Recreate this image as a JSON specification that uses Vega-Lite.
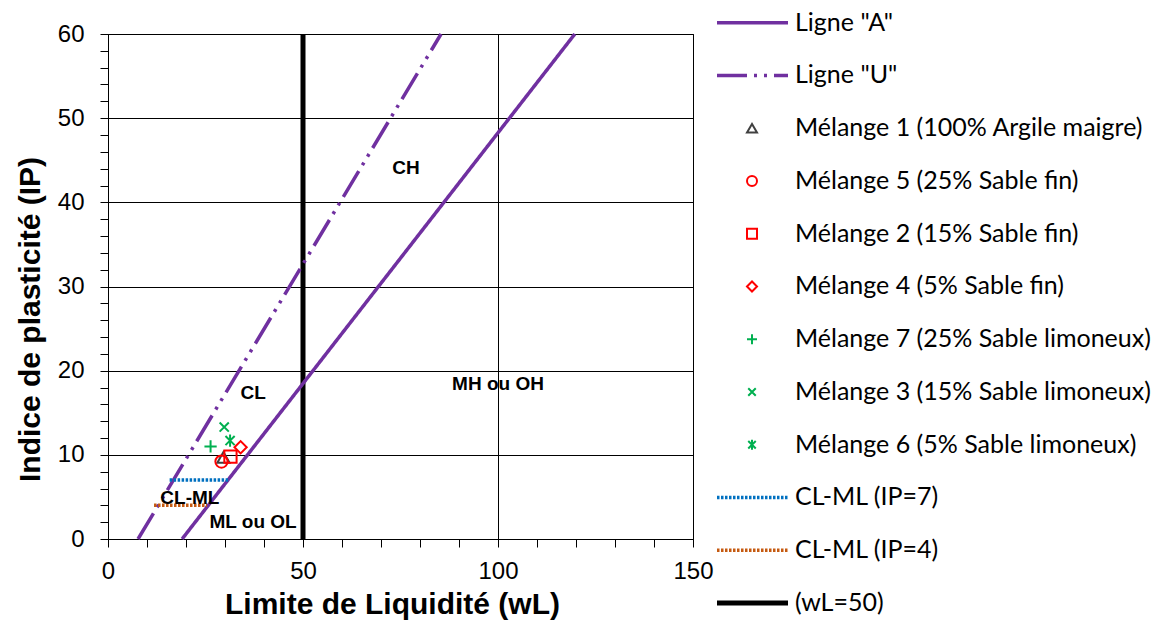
{
  "$schema": "https://vega.github.io/schema/vega-lite/v6.json",
  "background": "white",
  "padding": {"top": 10, "left": 14, "right": 0, "bottom": 0},
  "config": {
    "font": "Liberation Sans",
    "view": {"stroke": "black", "strokeWidth": 1},
    "axis": {
      "domainColor": "black",
      "domainWidth": 1,
      "tickColor": "black",
      "tickWidth": 1,
      "tickSize": 8,
      "tickCount": 100,
      "format": "d",
      "labelColor": "black",
      "labelFont": "Liberation Sans",
      "labelFontSize": 24,
      "labelOverlap": false,
      "labelFlush": false,
      "labelBound": false,
      "titleColor": "black",
      "titleFont": "Liberation Sans",
      "titleFontSize": 30,
      "titleFontWeight": "bold",
      "gridColor": "black",
      "gridWidth": 1
    }
  },
  "datasets": {
    "lignes": [
      {"serie": "(wL=50)", "wL": 50, "IP": 0},
      {"serie": "(wL=50)", "wL": 50, "IP": 60},
      {"serie": "Ligne \"A\"", "wL": 19, "IP": 0},
      {"serie": "Ligne \"A\"", "wL": 119.7, "IP": 60},
      {"serie": "Ligne \"U\"", "wL": 7.7, "IP": 0},
      {"serie": "Ligne \"U\"", "wL": 85.4, "IP": 60},
      {"serie": "CL-ML (IP=7)", "wL": 15.8, "IP": 7},
      {"serie": "CL-ML (IP=7)", "wL": 31.2, "IP": 7},
      {"serie": "CL-ML (IP=4)", "wL": 11.8, "IP": 4},
      {"serie": "CL-ML (IP=4)", "wL": 25.4, "IP": 4}
    ],
    "essais": [
      {"serie": "Mélange 1 (100% Argile maigre)", "wL": 29.6, "IP": 9.7},
      {"serie": "Mélange 5 (25% Sable fin)", "wL": 29.1, "IP": 9.2},
      {"serie": "Mélange 2 (15% Sable fin)", "wL": 31.4, "IP": 9.8},
      {"serie": "Mélange 4 (5% Sable fin)", "wL": 34.0, "IP": 10.9},
      {"serie": "Mélange 7 (25% Sable limoneux)", "wL": 26.3, "IP": 11.0},
      {"serie": "Mélange 3 (15% Sable limoneux)", "wL": 29.8, "IP": 13.3},
      {"serie": "Mélange 6 (5% Sable limoneux)", "wL": 31.3, "IP": 11.7}
    ],
    "zones": [
      {"nom": "CH", "wL": 76.4, "IP": 44.1},
      {"nom": "CL", "wL": 37.2, "IP": 17.3},
      {"nom": "MH ou OH", "wL": 100, "IP": 18.4},
      {"nom": "CL-ML", "wL": 21, "IP": 4.9},
      {"nom": "ML ou OL", "wL": 37.2, "IP": 2.0}
    ],
    "legende": [
      {"rang": 0, "serie": "Ligne \"A\"", "type": "ligne"},
      {"rang": 1, "serie": "Ligne \"U\"", "type": "ligne"},
      {"rang": 2, "serie": "Mélange 1 (100% Argile maigre)", "type": "symbole"},
      {"rang": 3, "serie": "Mélange 5 (25% Sable fin)", "type": "symbole"},
      {"rang": 4, "serie": "Mélange 2 (15% Sable fin)", "type": "symbole"},
      {"rang": 5, "serie": "Mélange 4 (5% Sable fin)", "type": "symbole"},
      {"rang": 6, "serie": "Mélange 7 (25% Sable limoneux)", "type": "symbole"},
      {"rang": 7, "serie": "Mélange 3 (15% Sable limoneux)", "type": "symbole"},
      {"rang": 8, "serie": "Mélange 6 (5% Sable limoneux)", "type": "symbole"},
      {"rang": 9, "serie": "CL-ML (IP=7)", "type": "ligne"},
      {"rang": 10, "serie": "CL-ML (IP=4)", "type": "ligne"},
      {"rang": 11, "serie": "(wL=50)", "type": "trait50"}
    ]
  },
  "spacing": 20,
  "bounds": "flush",
  "hconcat": [
    {
      "width": 585,
      "height": 505,
      "layer": [
        {
          "data": {"name": "lignes"},
          "transform": [{"filter": "datum.serie === '(wL=50)'"}],
          "mark": {"type": "line", "strokeWidth": 5, "strokeCap": "butt"},
          "encoding": {
            "x": {
              "field": "wL", "type": "quantitative",
              "scale": {"domain": [0, 150], "nice": false, "zero": false},
              "axis": {
                "title": "Limite de Liquidité (wL)",
                "format": "d",
                "values": [0, 10, 20, 30, 40, 50, 60, 70, 80, 90, 100, 110, 120, 130, 140, 150],
                "labelExpr": "datum.value % 50 === 0 ? datum.label : ''",
                "grid": true,
                "gridOpacity": {"condition": {"test": "datum.value % 50 === 0", "value": 1}, "value": 0},
                "labelPadding": 12,
                "titlePadding": 6,
                "titleX": 284
              }
            },
            "y": {
              "field": "IP", "type": "quantitative",
              "scale": {"domain": [0, 60], "nice": false, "zero": false},
              "axis": {
                "title": "Indice de plasticité (IP)",
                "format": "d",
                "values": [0, 2, 4, 6, 8, 10, 12, 14, 16, 18, 20, 22, 24, 26, 28, 30, 32, 34, 36, 38, 40, 42, 44, 46, 48, 50, 52, 54, 56, 58, 60],
                "labelExpr": "datum.value % 10 === 0 ? datum.label : ''",
                "grid": true,
                "gridOpacity": {"condition": {"test": "datum.value % 10 === 0", "value": 1}, "value": 0},
                "labelPadding": 16,
                "titlePadding": 12,
                "titleY": 285
              }
            },
            "color": {
              "field": "serie", "type": "nominal", "legend": null,
              "scale": {
                "domain": ["Ligne \"A\"", "Ligne \"U\"", "Mélange 1 (100% Argile maigre)", "Mélange 5 (25% Sable fin)", "Mélange 2 (15% Sable fin)", "Mélange 4 (5% Sable fin)", "Mélange 7 (25% Sable limoneux)", "Mélange 3 (15% Sable limoneux)", "Mélange 6 (5% Sable limoneux)", "CL-ML (IP=7)", "CL-ML (IP=4)", "(wL=50)"],
                "range": ["#7030A0", "#7030A0", "#404040", "#FF0000", "#FF0000", "#FF0000", "#00B050", "#00B050", "#00B050", "#0070C0", "#C55A11", "#000000"]
              }
            }
          }
        },
        {
          "data": {"name": "lignes"},
          "transform": [{"filter": "datum.serie !== '(wL=50)'"}],
          "mark": {"type": "line", "strokeWidth": 3.5, "strokeCap": "butt"},
          "encoding": {
            "x": {"field": "wL", "type": "quantitative"},
            "y": {"field": "IP", "type": "quantitative"},
            "color": {"field": "serie", "type": "nominal", "legend": null},
            "strokeDash": {
              "field": "serie", "type": "nominal", "legend": null,
              "scale": {
                "domain": ["Ligne \"A\"", "Ligne \"U\"", "CL-ML (IP=7)", "CL-ML (IP=4)"],
                "range": [[1, 0], [30, 7, 3, 7, 3, 7], [2.5, 1.5], [2.5, 1.5]]
              }
            }
          }
        },
        {
          "data": {"name": "essais"},
          "mark": {"type": "point", "filled": false, "strokeWidth": 2, "size": 150, "opacity": 1},
          "encoding": {
            "x": {"field": "wL", "type": "quantitative"},
            "y": {"field": "IP", "type": "quantitative"},
            "color": {"field": "serie", "type": "nominal", "legend": null},
            "shape": {
              "field": "serie", "type": "nominal", "legend": null,
              "scale": {
                "domain": ["Mélange 1 (100% Argile maigre)", "Mélange 5 (25% Sable fin)", "Mélange 2 (15% Sable fin)", "Mélange 4 (5% Sable fin)", "Mélange 7 (25% Sable limoneux)", "Mélange 3 (15% Sable limoneux)", "Mélange 6 (5% Sable limoneux)"],
                "range": ["triangle-up", "circle", "square", "diamond", "M-1,0H1M0,-1V1", "M-0.75,-0.75L0.75,0.75M-0.75,0.75L0.75,-0.75", "M-0.75,-0.75L0.75,0.75M-0.75,0.75L0.75,-0.75M0,-1V1"]
              }
            }
          }
        },
        {
          "data": {"name": "zones"},
          "mark": {"type": "text", "font": "Liberation Sans", "fontWeight": "bold", "fontSize": 19, "color": "black", "align": "center", "baseline": "middle"},
          "encoding": {
            "x": {"field": "wL", "type": "quantitative"},
            "y": {"field": "IP", "type": "quantitative"},
            "text": {"field": "nom", "type": "nominal"}
          }
        }
      ]
    },
    {
      "width": 440,
      "height": 505,
      "view": {"stroke": null},
      "data": {"name": "legende"},
      "layer": [
        {
          "transform": [{"filter": "datum.type === 'ligne'"}],
          "mark": {"type": "rule", "strokeWidth": 3.5, "strokeCap": "butt"},
          "encoding": {
            "x": {"datum": 4, "type": "quantitative", "scale": {"domain": [0, 440], "nice": false, "zero": false}, "axis": null},
            "x2": {"datum": 75},
            "y": {"field": "rang", "type": "quantitative", "scale": {"domain": [0.214, 9.787], "reverse": true, "nice": false, "zero": false}, "axis": null},
            "color": {"field": "serie", "type": "nominal", "legend": null},
            "strokeDash": {"field": "serie", "type": "nominal", "legend": null}
          }
        },
        {
          "transform": [{"filter": "datum.type === 'trait50'"}],
          "mark": {"type": "rule", "strokeWidth": 5, "strokeCap": "butt"},
          "encoding": {
            "x": {"datum": 4, "type": "quantitative"},
            "x2": {"datum": 75},
            "y": {"field": "rang", "type": "quantitative"},
            "color": {"field": "serie", "type": "nominal", "legend": null}
          }
        },
        {
          "transform": [{"filter": "datum.type === 'symbole'"}],
          "mark": {"type": "point", "filled": false, "strokeWidth": 2, "size": 100, "opacity": 1},
          "encoding": {
            "x": {"datum": 39, "type": "quantitative"},
            "y": {"field": "rang", "type": "quantitative"},
            "color": {"field": "serie", "type": "nominal", "legend": null},
            "shape": {"field": "serie", "type": "nominal", "legend": null}
          }
        },
        {
          "mark": {"type": "text", "font": "Lato", "fontSize": 25, "color": "black", "align": "left", "baseline": "middle"},
          "encoding": {
            "x": {"datum": 82, "type": "quantitative"},
            "y": {"field": "rang", "type": "quantitative"},
            "text": {"field": "serie", "type": "nominal"}
          }
        }
      ]
    }
  ]
}
